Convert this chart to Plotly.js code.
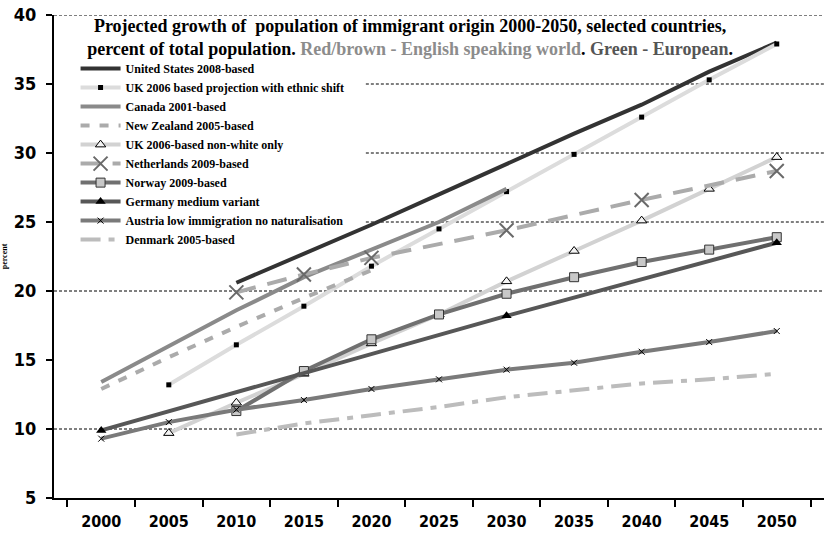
<!DOCTYPE html>
<html>
<head>
<meta charset="utf-8">
<script src="https://cdn.plot.ly/plotly-3.0.1.min.js"></script>
<style>
  html, body { margin: 0; padding: 0; background: #fff; }
  #chart { width: 825px; height: 534px; }
</style>
</head>
<body>
<div id="chart"></div>
<script>
// ---- data ----
const years = ['2000','2005','2010','2015','2020','2025','2030','2035','2040','2045','2050'];

const seriesNames = [
  'United States 2008-based',
  'UK 2006 based projection with ethnic shift',
  'Canada 2001-based',
  'New Zealand 2005-based',
  'UK 2006-based non-white only',
  'Netherlands 2009-based',
  'Norway 2009-based',
  'Germany medium variant',
  'Austria low immigration no naturalisation',
  'Denmark 2005-based'
];

const unitedStates  = [null, null, 20.6, 22.7, 24.8, 27.0, 29.2, 31.4, 33.5, 35.9, 38.0];
const ukEthnicShift = [null, 13.2, 16.1, 18.9, 21.8, 24.5, 27.2, 29.9, 32.6, 35.3, 37.9];
const canada        = [13.4, 16.0, 18.6, 21.0, 23.0, 25.0, 27.4, null, null, null, null];
const newZealand    = [12.9, 15.2, 17.4, 19.5, 21.5, null, null, null, null, null, null];
const ukNonWhite    = [null, 9.7, 11.9, 14.0, 16.2, 18.3, 20.7, 22.9, 25.1, 27.4, 29.7];
const netherlands   = [null, null, 19.9, 21.2, 22.4, null, 24.4, null, 26.6, null, 28.7];
const norway        = [null, null, 11.3, 14.2, 16.5, 18.3, 19.8, 21.0, 22.1, 23.0, 23.9];
const germany       = [9.9, null, null, null, null, null, 18.2, null, null, null, 23.5];
const austria       = [9.3, 10.5, 11.4, 12.1, 12.9, 13.6, 14.3, 14.8, 15.6, 16.3, 17.1];
const denmark       = [null, null, 9.6, 10.4, 11.0, 11.6, 12.3, 12.8, 13.3, 13.6, 14.0];

const yTicks = [5, 10, 15, 20, 25, 30, 35, 40];
const fullGridValues = [10, 20, 40];      // dotted gridlines across the whole plot
const partGridValues = [25, 30, 35];      // dotted gridlines starting right of the legend

const titleLine1 = 'Projected growth of  population of immigrant origin 2000-2050, selected countries,';
const titleLine2a = 'percent of total population. ';
const titleLine2b = 'Red/brown - English speaking world';
const titleLine2c = '. ';
const titleLine2d = 'Green - European';
const titleLine2e = '.';

// ---- traces ----
const valuesList = [unitedStates, ukEthnicShift, canada, newZealand, ukNonWhite,
                    netherlands, norway, germany, austria, denmark];

const styles = [
  {line:{color:'#333333', width:4}, mode:'lines'},
  {line:{color:'#dcdcdc', width:4}, mode:'lines+markers',
   marker:{symbol:'square', size:5, color:'#000'}},
  {line:{color:'#8a8a8a', width:4}, mode:'lines'},
  {line:{color:'#ababab', width:4, dash:'9px,10px'}, mode:'lines'},
  {line:{color:'#d2d2d2', width:4}, mode:'lines+markers',
   marker:{symbol:'triangle-up', size:9, color:'#f4f4f4', line:{color:'#000', width:1}}},
  {line:{color:'#ababab', width:4, dash:'20px,12px'}, mode:'lines+markers',
   marker:{symbol:'x-thin', size:14, color:'#6a6a6a', line:{color:'#6a6a6a', width:2}}},
  {line:{color:'#707070', width:4}, mode:'lines+markers',
   marker:{symbol:'square', size:9, color:'#c8c8c8', line:{color:'#333', width:1}}},
  {line:{color:'#575757', width:4}, mode:'lines+markers',
   marker:{symbol:'triangle-up', size:9, color:'#000'}},
  {line:{color:'#7a7a7a', width:4}, mode:'lines+markers',
   marker:{symbol:'x-thin', size:6, color:'#000', line:{color:'#000', width:1}}},
  {line:{color:'#bcbcbc', width:4, dash:'20px,8px,6px,8px'}, mode:'lines'}
];

const traces = seriesNames.map((name, i) => Object.assign({
  type:'scatter', x: years, y: valuesList[i], name: name,
  connectgaps: true, cliponaxis: false
}, styles[i]));

const gridStyle = {color:'#000', width:1, dash:'3px,2px'};
const shapes = fullGridValues.map(v => ({type:'line', layer:'below', xref:'paper', x0:0, x1:1,
                                         yref:'y', y0:v, y1:v, line:gridStyle}))
  .concat(partGridValues.map(v => ({type:'line', layer:'below', xref:'paper', x0:0.405, x1:1,
                                    yref:'y', y0:v, y1:v, line:gridStyle})));

const tickFont = {family:'"Liberation Sans Narrow", "DejaVu Sans Condensed", "Arial Narrow", sans-serif',
                  weight:'bold', color:'#000'};

const layout = {
  width: 825, height: 534,
  margin: {l:54, r:1, t:15, b:36},
  paper_bgcolor:'#fff', plot_bgcolor:'#fff',
  showlegend: true,
  shapes: shapes,
  title: {
    text: '<b>' + titleLine1 + '<br>' + titleLine2a +
          '<span style="color:#8c8c8c">' + titleLine2b + '</span>' + titleLine2c +
          '<span style="color:#555">' + titleLine2d + '</span>' + titleLine2e + '</b>',
    font: {family:'"Liberation Serif", "DejaVu Serif", serif', size:18, color:'#000'},
    x: 0.497, xanchor:'center', y: 0.94, yanchor:'top'
  },
  xaxis: {
    type:'category', categoryorder:'array', categoryarray: years,
    showline:true, linecolor:'#000', linewidth:2,
    ticks:'outside', tickson:'boundaries', ticklen:7, tickwidth:2, tickcolor:'#000',
    showgrid:false, zeroline:false,
    tickfont: Object.assign({size:16}, tickFont),
    ticklabelstandoff: 8
  },
  yaxis: {
    range:[5,40], tickvals: yTicks, ticktext: yTicks.map(String),
    showline:true, linecolor:'#000', linewidth:2,
    ticks:'outside', ticklen:6, tickwidth:2, tickcolor:'#000',
    showgrid:false, zeroline:false,
    tickfont: Object.assign({size:18}, tickFont),
    ticklabelstandoff: 6,
    title: {text:'percent', font:{family:'"Liberation Serif", serif', size:8, weight:'bold', color:'#000'}, standoff: 6}
  },
  legend: {
    x: 0.028, y: 0.919, xanchor:'left', yanchor:'top',
    bgcolor:'rgba(255,255,255,0)', borderwidth:0,
    font:{family:'"Liberation Serif", "DejaVu Serif", serif', size:12, weight:'bold', color:'#000'},
    itemwidth: 40, tracegroupgap: 0
  }
};

Plotly.newPlot('chart', traces, layout, {displayModeBar:false, staticPlot:true});
</script>
</body>
</html>
